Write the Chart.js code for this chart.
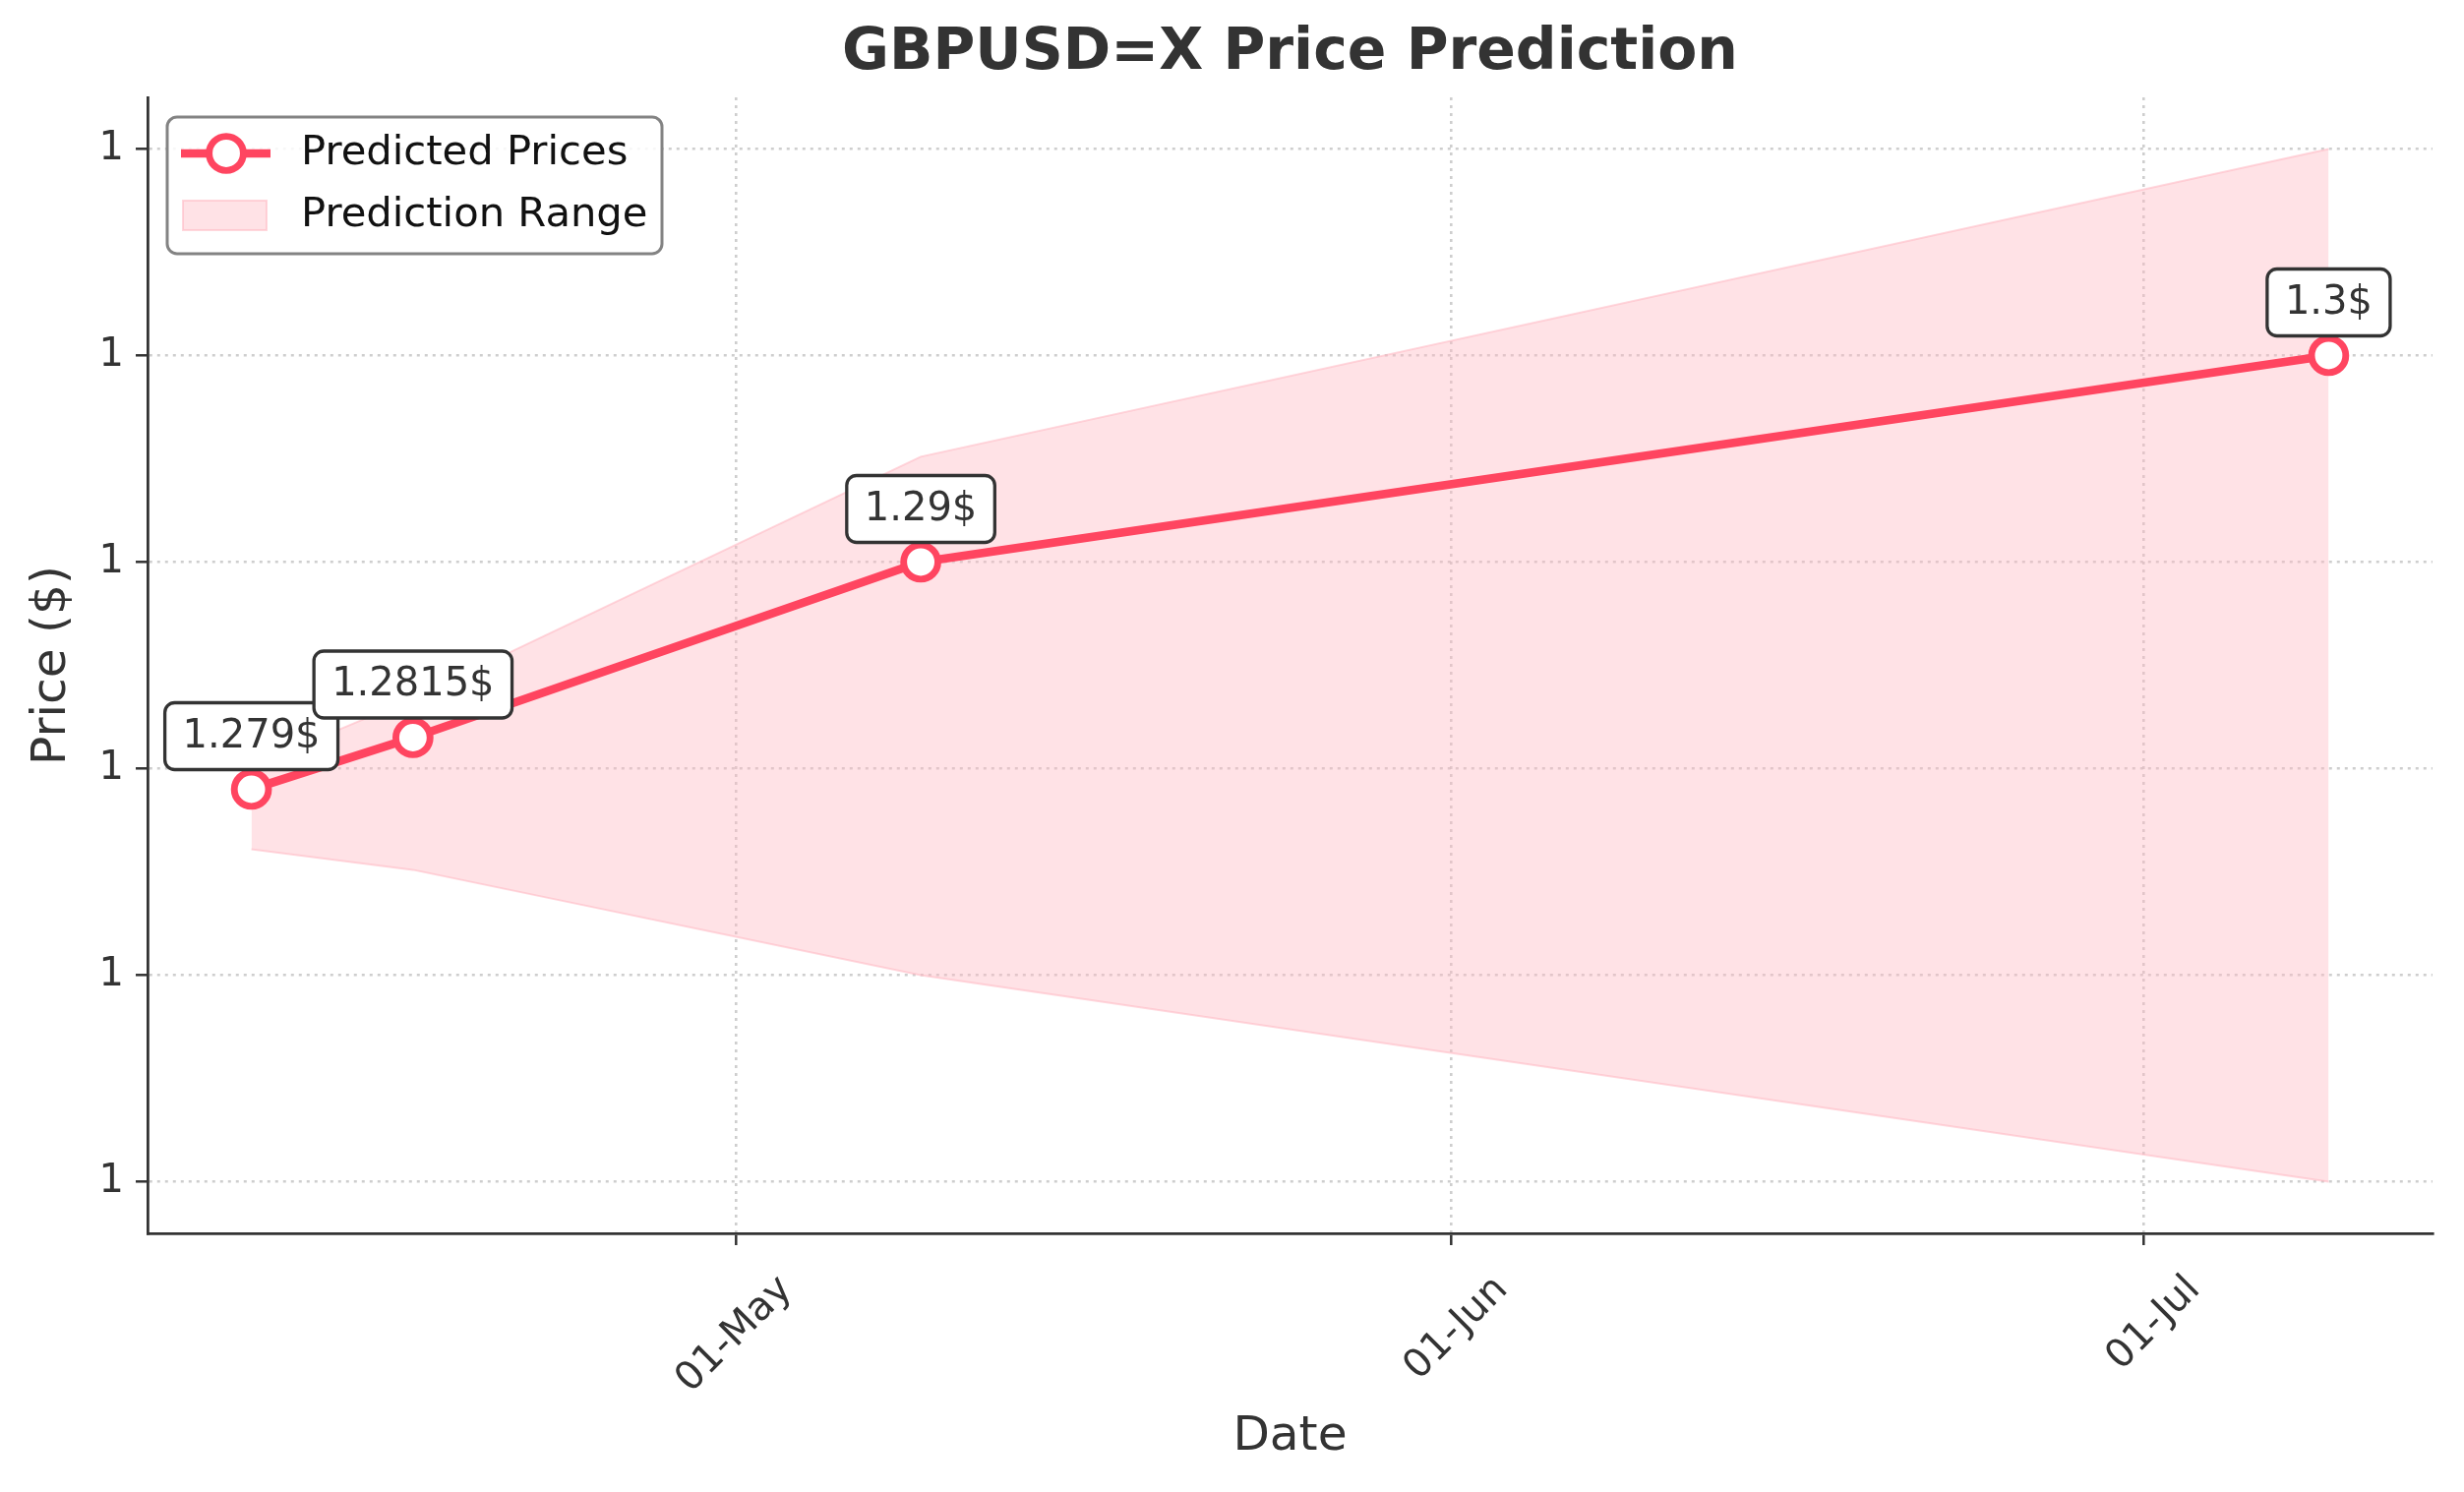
<!DOCTYPE html>
<html>
<head>
<meta charset="utf-8">
<script src="https://cdn.jsdelivr.net/npm/chart.js@4.4.1/dist/chart.umd.min.js"></script>
<style>
html, body { margin: 0; padding: 0; background: #ffffff; }
#wrap { width: 2505px; height: 1517px; position: relative; }
</style>
</head>
<body>
<div id="wrap"><canvas id="c"></canvas></div>
<script>
// ---- data ----
const dates = ['2024-04-10', '2024-04-17', '2024-05-09', '2024-07-09'];
const predictedPrices = [1.279, 1.2815, 1.29, 1.30];
const rangeLower = [1.2761, 1.2751, 1.2700, 1.2600];
const rangeUpper = [1.2801, 1.2834, 1.2951, 1.3100];
const xTickDates = ['2024-05-01', '2024-06-01', '2024-07-01'];
const xTickLabels = ['01-May', '01-Jun', '01-Jul'];
const yTickValues = [1.26, 1.27, 1.28, 1.29, 1.30, 1.31];
const yTickLabels = ['1', '1', '1', '1', '1', '1'];
const priceLabels = predictedPrices.map(v => v + '$');

// ---- helpers ----
const dayNum = s => { const [y, m, d] = s.split('-').map(Number); return Date.UTC(y, m - 1, d) / 86400000; };
const xs = dates.map(dayNum);
const toPts = arr => arr.map((v, i) => ({ x: xs[i], y: v }));
const xMargin = (xs[xs.length - 1] - xs[0]) * 0.05;
const yAll = rangeLower.concat(rangeUpper, predictedPrices);
const yLo = Math.min(...yAll), yHi = Math.max(...yAll);
const yMargin = (yHi - yLo) * 0.05;

const FONT = "'DejaVu Sans', 'Liberation Sans', sans-serif";
Chart.defaults.font.family = FONT;
Chart.defaults.color = '#333333';

const LINE_COLOR = '#ff4560';
const BAND_FILL = 'rgba(255,182,193,0.4)';
const BAND_EDGE = 'rgba(255,182,193,0.55)';
const GRID_COLOR = 'rgba(190,190,190,0.75)';

// value annotation boxes
const labelPlugin = {
  id: 'priceLabels',
  afterDatasetsDraw(chart) {
    const ctx = chart.ctx;
    const xS = chart.scales.x, yS = chart.scales.y;
    ctx.save();
    ctx.font = '40px ' + FONT;
    ctx.textAlign = 'center';
    ctx.textBaseline = 'middle';
    predictedPrices.forEach((v, i) => {
      const px = xS.getPixelForValue(xs[i]);
      const py = yS.getPixelForValue(v);
      const txt = priceLabels[i];
      const w = ctx.measureText(txt).width + 36;
      const h = 68;
      const cx = px, cy = py - 54;
      ctx.beginPath();
      ctx.roundRect(cx - w / 2, cy - h / 2, w, h, 10);
      ctx.fillStyle = '#ffffff';
      ctx.fill();
      ctx.lineWidth = 3.3;
      ctx.strokeStyle = '#333333';
      ctx.stroke();
      ctx.fillStyle = '#333333';
      ctx.fillText(txt, cx, cy + 1);
    });
    ctx.restore();
  }
};

// legend box drawn in the plot's upper-left corner
const legendPlugin = {
  id: 'boxLegend',
  afterDraw(chart) {
    const ctx = chart.ctx;
    const a = chart.chartArea;
    const bx = a.left + 20, by = a.top + 20, bw = 503, bh = 139;
    ctx.save();
    ctx.beginPath();
    ctx.roundRect(bx, by, bw, bh, 10);
    ctx.fillStyle = 'rgba(255,255,255,0.85)';
    ctx.fill();
    ctx.lineWidth = 3;
    ctx.strokeStyle = '#838383';
    ctx.stroke();
    // entry 1: line + marker
    const y1 = by + 37, y2 = by + 100;
    ctx.beginPath();
    ctx.moveTo(bx + 14, y1);
    ctx.lineTo(bx + 105, y1);
    ctx.lineWidth = 8.7;
    ctx.strokeStyle = LINE_COLOR;
    ctx.stroke();
    ctx.beginPath();
    ctx.arc(bx + 60, y1, 17.4, 0, Math.PI * 2);
    ctx.fillStyle = '#ffffff';
    ctx.fill();
    ctx.lineWidth = 6.9;
    ctx.strokeStyle = LINE_COLOR;
    ctx.stroke();
    // entry 2: patch
    ctx.fillStyle = BAND_FILL;
    ctx.fillRect(bx + 16, y2 - 15, 85, 30);
    ctx.lineWidth = 2;
    ctx.strokeStyle = BAND_EDGE;
    ctx.strokeRect(bx + 16, y2 - 15, 85, 30);
    // texts
    ctx.fillStyle = '#111111';
    ctx.font = '41.7px ' + FONT;
    ctx.textAlign = 'left';
    ctx.textBaseline = 'middle';
    ctx.fillText('Predicted Prices', bx + 136, y1);
    ctx.fillText('Prediction Range', bx + 136, y2);
    ctx.restore();
  }
};

new Chart(document.getElementById('c'), {
  type: 'line',
  data: {
    datasets: [
      {
        label: 'Range Lower',
        data: toPts(rangeLower),
        borderColor: BAND_EDGE,
        borderWidth: 2,
        pointRadius: 0,
        fill: false,
        order: 2
      },
      {
        label: 'Prediction Range',
        data: toPts(rangeUpper),
        borderColor: BAND_EDGE,
        backgroundColor: BAND_FILL,
        borderWidth: 2,
        pointRadius: 0,
        fill: '-1',
        order: 1
      },
      {
        label: 'Predicted Prices',
        data: toPts(predictedPrices),
        borderColor: LINE_COLOR,
        borderWidth: 8.7,
        pointRadius: 17.4,
        pointBorderWidth: 6.9,
        pointBackgroundColor: '#ffffff',
        pointBorderColor: LINE_COLOR,
        fill: false,
        tension: 0,
        order: 0
      }
    ]
  },
  options: {
    responsive: true,
    maintainAspectRatio: false,
    devicePixelRatio: 1,
    animation: false,
    layout: { padding: { left: 0, right: 32, top: 0, bottom: 0 } },
    plugins: {
      legend: { display: false },
      tooltip: { enabled: false },
      title: {
        display: true,
        text: 'GBPUSD=X Price Prediction',
        fullSize: false,
        color: '#333333',
        font: { family: FONT, size: 58.4, weight: 'bold' },
        padding: { top: 20, bottom: 8.9 }
      }
    },
    scales: {
      x: {
        type: 'linear',
        min: xs[0] - xMargin,
        max: xs[xs.length - 1] + xMargin,
        afterBuildTicks(scale) { scale.ticks = xTickDates.map(d => ({ value: dayNum(d) })); },
        afterFit(scale) { scale.height = 263; },
        ticks: {
          autoSkip: false,
          minRotation: 45,
          maxRotation: 45,
          labelOffset: 51,
          padding: 22,
          color: '#333333',
          font: { family: FONT, size: 40 },
          callback(value) { const i = xTickDates.findIndex(d => dayNum(d) === value); return i >= 0 ? xTickLabels[i] : ''; }
        },
        grid: {
          color: GRID_COLOR,
          lineWidth: 2.6,
          tickLength: 12,
          tickColor: '#333333',
          tickWidth: 2.5,
          tickBorderDash: []
        },
        border: { display: true, color: '#333333', width: 2.8, dash: [3, 5] },
        title: {
          display: true,
          text: 'Date',
          color: '#333333',
          font: { family: FONT, size: 48.6 },
          padding: { top: 0, bottom: 26 }
        }
      },
      y: {
        type: 'linear',
        min: yLo - yMargin,
        max: yHi + yMargin,
        afterBuildTicks(scale) { scale.ticks = yTickValues.map(v => ({ value: v })); },
        afterFit(scale) { scale.width = 150; },
        ticks: {
          padding: 12,
          color: '#333333',
          font: { family: FONT, size: 40 },
          callback(value) { const i = yTickValues.findIndex(v => Math.abs(v - value) < 1e-9); return i >= 0 ? yTickLabels[i] : ''; }
        },
        grid: {
          color: GRID_COLOR,
          lineWidth: 2.6,
          tickLength: 12,
          tickColor: '#333333',
          tickWidth: 2.5,
          tickBorderDash: []
        },
        border: { display: true, color: '#333333', width: 2.8, dash: [3, 5] },
        title: {
          display: true,
          text: 'Price ($)',
          color: '#333333',
          font: { family: FONT, size: 48.6 },
          padding: { top: 24, bottom: 0 }
        }
      }
    }
  },
  plugins: [labelPlugin, legendPlugin]
});
</script>
</body>
</html>
